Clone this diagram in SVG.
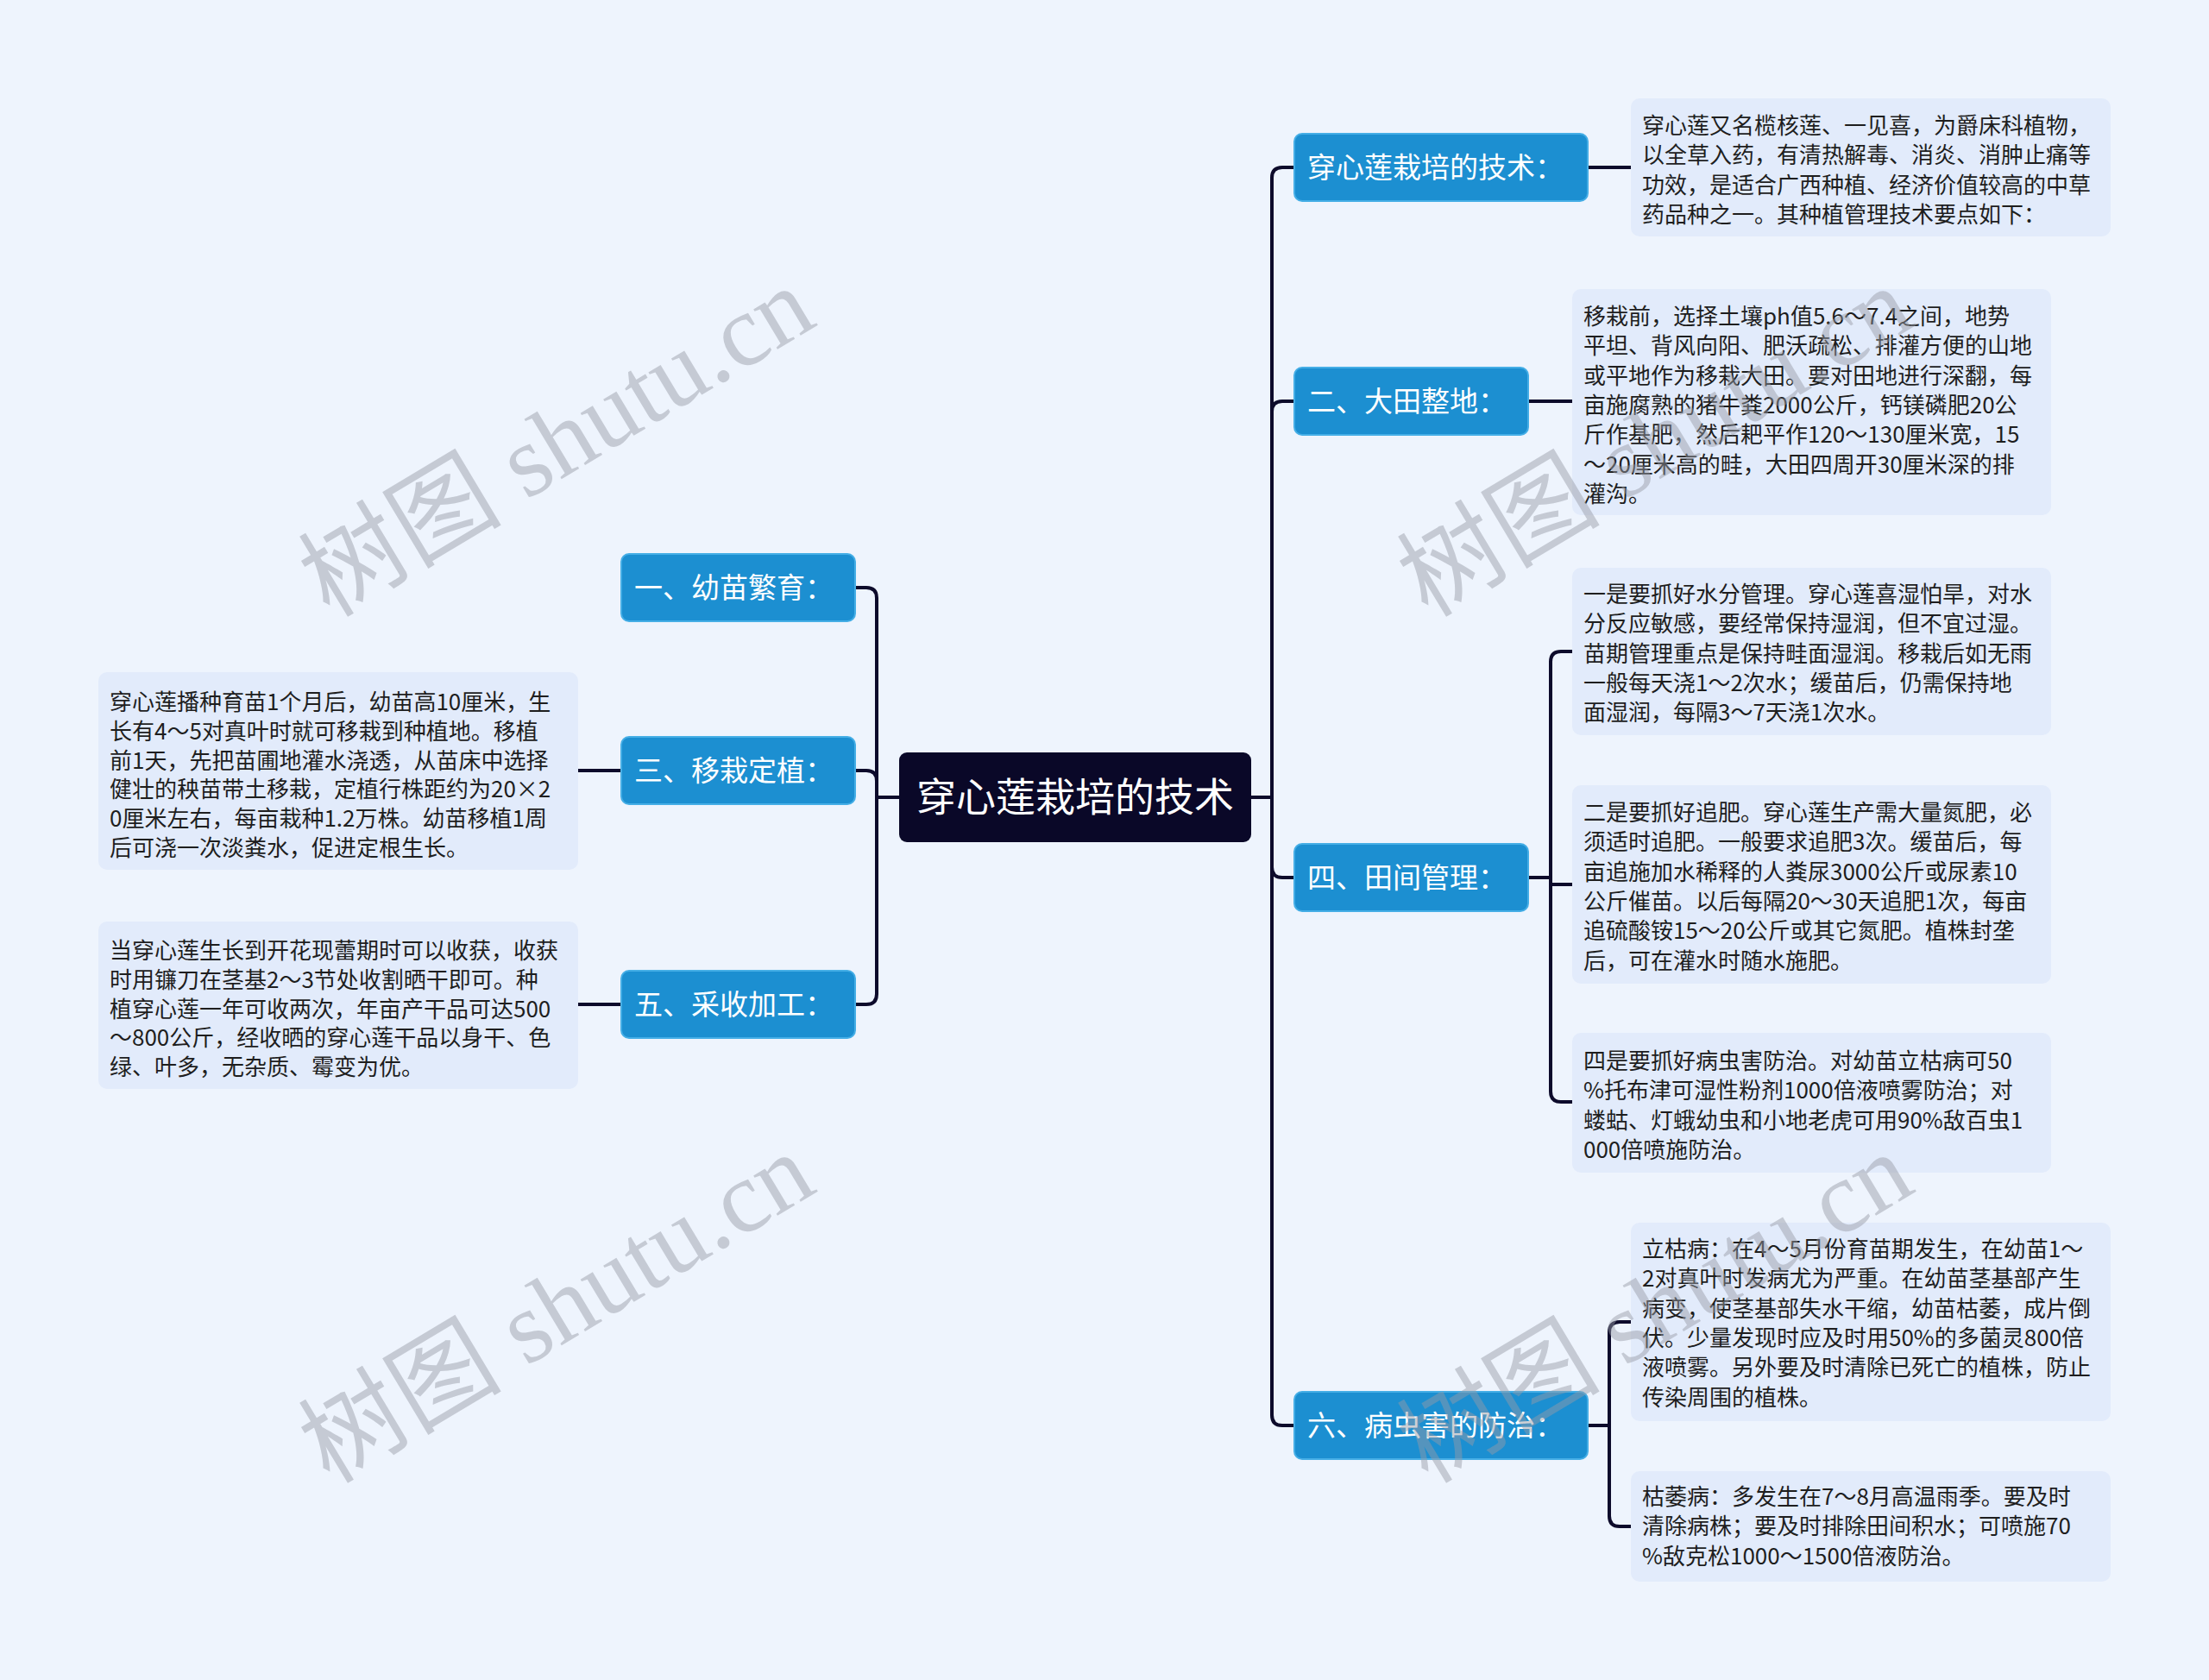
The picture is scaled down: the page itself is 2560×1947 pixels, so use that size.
<svg xmlns="http://www.w3.org/2000/svg" width="2560" height="1947" viewBox="0 0 2560 1947">
<style>
.bg{fill:#eef4fd}
.root{fill:#0a0828}
.rootT{fill:#ffffff;font-family:'Noto Sans CJK SC','Noto Sans',sans-serif;font-size:46px;text-anchor:middle}
.br{fill:#1c8fd1;stroke:#45aee6;stroke-width:2}
.brT{fill:#ffffff;font-family:'Noto Sans CJK SC','Noto Sans',sans-serif;font-size:33px}
.leaf{fill:#e2ebfb}
.leafT{fill:#1e1e1e;font-family:'Noto Sans CJK SC','Noto Sans',sans-serif;font-size:26px}
.con path{fill:none;stroke:#0d0b2b;stroke-width:4;stroke-linejoin:round}
.wm{fill:rgb(150,155,166);fill-opacity:0.47;font-family:'Liberation Serif','Noto Sans CJK SC',serif;font-size:118px;text-anchor:middle}
</style>
<rect class="bg" x="0" y="0" width="2560" height="1947"/>

<g id="connectors" class="con">
<path d="M1450 924 H1474 V206 Q1474 194 1486 194 H1500"/>
<path d="M1450 924 H1474 V477 Q1474 465 1486 465 H1500"/>
<path d="M1450 924 H1474 V1005 Q1474 1017 1486 1017 H1500"/>
<path d="M1450 924 H1474 V1640 Q1474 1652 1486 1652 H1500"/>
<path d="M1042 924 H1016 V693 Q1016 681 1004 681 H991"/>
<path d="M1042 924 H1016 V905 Q1016 893 1004 893 H991"/>
<path d="M1042 924 H1016 V1152 Q1016 1164 1004 1164 H991"/>
<path d="M1840 194 H1890"/>
<path d="M1771 465 H1822"/>
<path d="M1771 1017 H1797 V767 Q1797 755 1809 755 H1822"/>
<path d="M1771 1017 H1797 V1025 H1822"/>
<path d="M1771 1017 H1797 V1265 Q1797 1277 1809 1277 H1822"/>
<path d="M1840 1652 H1865 V1544 Q1865 1532 1877 1532 H1890"/>
<path d="M1840 1652 H1865 V1757 Q1865 1769 1877 1769 H1890"/>
<path d="M720 893 H669"/>
<path d="M720 1164 H669"/>
</g>

<g id="root">
<rect class="root" x="1042" y="872" width="408" height="104" rx="9"/>
<text class="rootT" x="1246" y="940">穿心莲栽培的技术</text>
</g>

<g id="b1">
<rect class="br" x="1500" y="155" width="340" height="78" rx="9"/>
<text class="brT" x="1515" y="206">穿心莲栽培的技术：</text>
</g>
<g id="b2">
<rect class="br" x="1500" y="426" width="271" height="78" rx="9"/>
<text class="brT" x="1515" y="477">二、大田整地：</text>
</g>
<g id="b4">
<rect class="br" x="1500" y="978" width="271" height="78" rx="9"/>
<text class="brT" x="1515" y="1029">四、田间管理：</text>
</g>
<g id="b6">
<rect class="br" x="1500" y="1613" width="340" height="78" rx="9"/>
<text class="brT" x="1515" y="1664">六、病虫害的防治：</text>
</g>
<g id="b1l">
<rect class="br" x="720" y="642" width="271" height="78" rx="9"/>
<text class="brT" x="735" y="693">一、幼苗繁育：</text>
</g>
<g id="b3">
<rect class="br" x="720" y="854" width="271" height="78" rx="9"/>
<text class="brT" x="735" y="905">三、移栽定植：</text>
</g>
<g id="b5">
<rect class="br" x="720" y="1125" width="271" height="78" rx="9"/>
<text class="brT" x="735" y="1176">五、采收加工：</text>
</g>

<g id="leaf1">
<rect class="leaf" x="1890" y="114" width="556" height="160" rx="10"/>
<text class="leafT" x="1903" y="155"><tspan x="1903">穿心莲又名榄核莲、一见喜，为爵床科植物，</tspan><tspan x="1903" dy="34.3">以全草入药，有清热解毒、消炎、消肿止痛等</tspan><tspan x="1903" dy="34.3">功效，是适合广西种植、经济价值较高的中草</tspan><tspan x="1903" dy="34.3">药品种之一。其种植管理技术要点如下：</tspan></text>
</g>
<g id="leaf2">
<rect class="leaf" x="1822" y="335" width="555" height="262" rx="10"/>
<text class="leafT" x="1835" y="376"><tspan x="1835">移栽前，选择土壤ph值5.6～7.4之间，地势</tspan><tspan x="1835" dy="34.3">平坦、背风向阳、肥沃疏松、排灌方便的山地</tspan><tspan x="1835" dy="34.3">或平地作为移栽大田。要对田地进行深翻，每</tspan><tspan x="1835" dy="34.3">亩施腐熟的猪牛粪2000公斤，钙镁磷肥20公</tspan><tspan x="1835" dy="34.3">斤作基肥，然后耙平作120～130厘米宽，15</tspan><tspan x="1835" dy="34.3">～20厘米高的畦，大田四周开30厘米深的排</tspan><tspan x="1835" dy="34.3">灌沟。</tspan></text>
</g>
<g id="leaf3">
<rect class="leaf" x="1822" y="658" width="555" height="194" rx="10"/>
<text class="leafT" x="1835" y="698"><tspan x="1835">一是要抓好水分管理。穿心莲喜湿怕旱，对水</tspan><tspan x="1835" dy="34.3">分反应敏感，要经常保持湿润，但不宜过湿。</tspan><tspan x="1835" dy="34.3">苗期管理重点是保持畦面湿润。移栽后如无雨</tspan><tspan x="1835" dy="34.3">一般每天浇1～2次水；缓苗后，仍需保持地</tspan><tspan x="1835" dy="34.3">面湿润，每隔3～7天浇1次水。</tspan></text>
</g>
<g id="leaf4">
<rect class="leaf" x="1822" y="910" width="555" height="230" rx="10"/>
<text class="leafT" x="1835" y="951"><tspan x="1835">二是要抓好追肥。穿心莲生产需大量氮肥，必</tspan><tspan x="1835" dy="34.3">须适时追肥。一般要求追肥3次。缓苗后，每</tspan><tspan x="1835" dy="34.3">亩追施加水稀释的人粪尿3000公斤或尿素10</tspan><tspan x="1835" dy="34.3">公斤催苗。以后每隔20～30天追肥1次，每亩</tspan><tspan x="1835" dy="34.3">追硫酸铵15～20公斤或其它氮肥。植株封垄</tspan><tspan x="1835" dy="34.3">后，可在灌水时随水施肥。</tspan></text>
</g>
<g id="leaf5">
<rect class="leaf" x="1822" y="1197" width="555" height="162" rx="10"/>
<text class="leafT" x="1835" y="1239"><tspan x="1835">四是要抓好病虫害防治。对幼苗立枯病可50</tspan><tspan x="1835" dy="34.3">%托布津可湿性粉剂1000倍液喷雾防治；对</tspan><tspan x="1835" dy="34.3">蝼蛄、灯蛾幼虫和小地老虎可用90%敌百虫1</tspan><tspan x="1835" dy="34.3">000倍喷施防治。</tspan></text>
</g>
<g id="leaf6">
<rect class="leaf" x="1890" y="1417" width="556" height="230" rx="10"/>
<text class="leafT" x="1903" y="1457"><tspan x="1903">立枯病：在4～5月份育苗期发生，在幼苗1～</tspan><tspan x="1903" dy="34.3">2对真叶时发病尤为严重。在幼苗茎基部产生</tspan><tspan x="1903" dy="34.3">病变，使茎基部失水干缩，幼苗枯萎，成片倒</tspan><tspan x="1903" dy="34.3">伏。少量发现时应及时用50%的多菌灵800倍</tspan><tspan x="1903" dy="34.3">液喷雾。另外要及时清除已死亡的植株，防止</tspan><tspan x="1903" dy="34.3">传染周围的植株。</tspan></text>
</g>
<g id="leaf7">
<rect class="leaf" x="1890" y="1705" width="556" height="128" rx="10"/>
<text class="leafT" x="1903" y="1744"><tspan x="1903">枯萎病：多发生在7～8月高温雨季。要及时</tspan><tspan x="1903" dy="34.3">清除病株；要及时排除田间积水；可喷施70</tspan><tspan x="1903" dy="34.3">%敌克松1000～1500倍液防治。</tspan></text>
</g>
<g id="leafL1">
<rect class="leaf" x="114" y="779" width="556" height="229" rx="10"/>
<text class="leafT" x="127" y="823"><tspan x="127">穿心莲播种育苗1个月后，幼苗高10厘米，生</tspan><tspan x="127" dy="33.8">长有4～5对真叶时就可移栽到种植地。移植</tspan><tspan x="127" dy="33.8">前1天，先把苗圃地灌水浇透，从苗床中选择</tspan><tspan x="127" dy="33.8">健壮的秧苗带土移栽，定植行株距约为20×2</tspan><tspan x="127" dy="33.8">0厘米左右，每亩栽种1.2万株。幼苗移植1周</tspan><tspan x="127" dy="33.8">后可浇一次淡粪水，促进定根生长。</tspan></text>
</g>
<g id="leafL2">
<rect class="leaf" x="114" y="1068" width="556" height="194" rx="10"/>
<text class="leafT" x="127" y="1111"><tspan x="127">当穿心莲生长到开花现蕾期时可以收获，收获</tspan><tspan x="127" dy="33.8">时用镰刀在茎基2～3节处收割晒干即可。种</tspan><tspan x="127" dy="33.8">植穿心莲一年可收两次，年亩产干品可达500</tspan><tspan x="127" dy="33.8">～800公斤，经收晒的穿心莲干品以身干、色</tspan><tspan x="127" dy="33.8">绿、叶多，无杂质、霉变为优。</tspan></text>
</g>

<g id="watermarks">
<text class="wm" transform="translate(645,512) rotate(-31)" y="40">树图 shutu.cn</text>
<text class="wm" transform="translate(1918,512) rotate(-31)" y="40">树图 shutu.cn</text>
<text class="wm" transform="translate(645,1516) rotate(-31)" y="40">树图 shutu.cn</text>
<text class="wm" transform="translate(1918,1516) rotate(-31)" y="40">树图 shutu.cn</text>
</g>
</svg>
